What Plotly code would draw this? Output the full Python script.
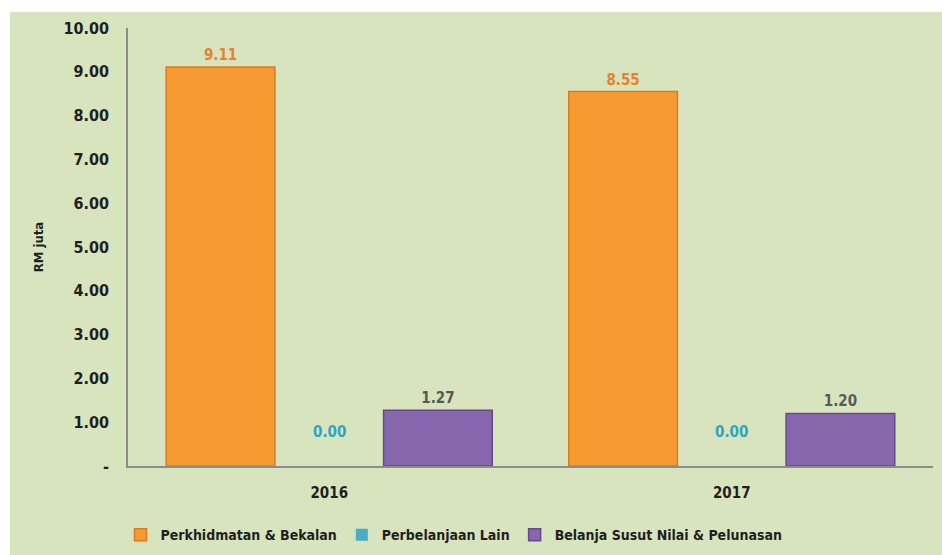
import plotly.graph_objects as go

years = ["2016", "2017"]
series_names = ["Perkhidmatan & Bekalan", "Perbelanjaan Lain", "Belanja Susut Nilai & Pelunasan"]
perkhidmatan = [9.11, 8.55]
perbelanjaan_lain = [0.00, 0.00]
susut_nilai = [1.27, 1.20]
y_ticks = [0, 1, 2, 3, 4, 5, 6, 7, 8, 9, 10]
y_tick_labels = ["-", "1.00", "2.00", "3.00", "4.00", "5.00", "6.00", "7.00", "8.00", "9.00", "10.00"]

FONT = "DejaVu Sans Condensed, Liberation Sans Narrow, Roboto, sans-serif"
BG = "#D7E4BD"

def f(size, color="#1F1F1F"):
    return dict(family=FONT, size=size, color=color, weight="bold")

fig = go.Figure()
fig.add_trace(go.Bar(
    name=series_names[0], x=years, y=perkhidmatan,
    marker=dict(color="#F89A32", line=dict(color="#DB7A1E", width=1.5)),
    text=[f"{v:.2f}" for v in perkhidmatan], textposition="outside",
    textfont=f(15, "#E3832F"), cliponaxis=False,
))
fig.add_trace(go.Bar(
    name=series_names[1], x=years, y=perbelanjaan_lain,
    marker=dict(color="#4BACC6", line=dict(width=0)),
))
fig.add_trace(go.Bar(
    name=series_names[2], x=years, y=susut_nilai,
    marker=dict(color="#8766AE", line=dict(color="#654A88", width=1.5)),
    text=[f"{v:.2f}" for v in susut_nilai], textposition="outside",
    textfont=f(15, "#595959"), cliponaxis=False,
))

# zero-value labels for the middle series (sits at category centre; index = category position)
for i, v in enumerate(perbelanjaan_lain):
    fig.add_annotation(x=i, y=v, text=f"{v:.2f}", showarrow=False, yshift=34,
                       font=f(15, "#31A5C0"))

# outer frame: green chart background with a thin white edge at top/left
fig.add_shape(type="rect", xref="paper", yref="paper", x0=-0.1466, x1=1.02, y0=-0.21, y1=1.0365,
              fillcolor=BG, line=dict(width=0), layer="below")

fig.update_layout(
    width=942, height=555,
    margin=dict(l=128, r=9, t=28, b=89, autoexpand=False),
    paper_bgcolor="white", plot_bgcolor=BG,
    barmode="group", bargap=0.19, bargroupgap=0,
    font=f(15),
    showlegend=True,
    legend=dict(orientation="h", x=0.405, xanchor="center", y=-0.158, yanchor="middle",
                font=f(14), itemwidth=30, bgcolor="rgba(0,0,0,0)", traceorder="normal"),
)
fig.update_xaxes(type="category", range=[-0.5, 1.5], showline=True, linecolor="#8C8C8C", linewidth=1.5,
                 showgrid=False, ticks="outside", ticklen=12, tickcolor="rgba(0,0,0,0)",
                 tickfont=f(15), automargin=False)
fig.update_yaxes(range=[0, 10], tickvals=y_ticks, ticktext=y_tick_labels,
                 showline=True, linecolor="#8C8C8C", linewidth=1.5, showgrid=False, zeroline=False,
                 ticks="outside", ticklen=14, tickcolor="rgba(0,0,0,0)",
                 tickfont=f(16), automargin=False,
                 title=dict(text="RM juta", font=f(13), standoff=17))

fig.write_html("out.html", config={"displayModeBar": False},
               post_script="document.body.style.margin='0';document.body.style.overflow='hidden';")
